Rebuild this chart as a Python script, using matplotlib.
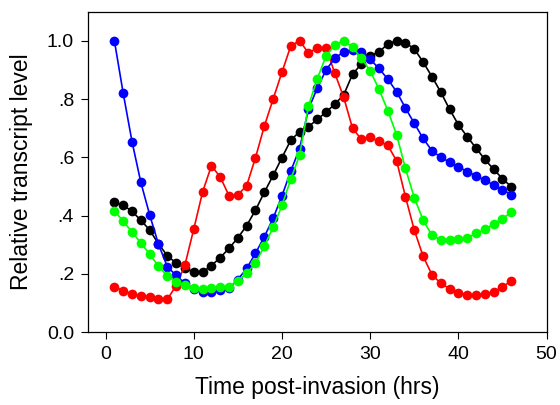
import matplotlib
matplotlib.use("Agg")
import matplotlib.pyplot as plt

plt.rcParams['font.family'] = ['Liberation Sans', 'DejaVu Sans']

hours = list(range(1, 47))

blue = [1.000, 0.820, 0.654, 0.514, 0.403, 0.302, 0.225, 0.195, 0.168, 0.150,
        0.139, 0.139, 0.145, 0.151, 0.181, 0.219, 0.271, 0.328, 0.391, 0.468,
        0.553, 0.630, 0.765, 0.837, 0.900, 0.940, 0.962, 0.968, 0.962, 0.936,
        0.905, 0.868, 0.825, 0.769, 0.717, 0.665, 0.623, 0.600, 0.584, 0.568,
        0.551, 0.537, 0.521, 0.506, 0.489, 0.472]

red = [0.156, 0.143, 0.131, 0.124, 0.122, 0.113, 0.113, 0.160, 0.231, 0.354,
       0.481, 0.571, 0.533, 0.468, 0.472, 0.503, 0.599, 0.707, 0.800, 0.892,
       0.982, 1.000, 0.958, 0.975, 0.975, 0.888, 0.806, 0.700, 0.662, 0.669,
       0.655, 0.641, 0.588, 0.465, 0.351, 0.261, 0.198, 0.168, 0.150, 0.136,
       0.129, 0.127, 0.131, 0.139, 0.156, 0.176]

black = [0.446, 0.436, 0.415, 0.384, 0.351, 0.303, 0.263, 0.237, 0.220, 0.206,
         0.206, 0.229, 0.256, 0.288, 0.324, 0.366, 0.419, 0.480, 0.538, 0.599,
         0.659, 0.688, 0.705, 0.730, 0.755, 0.783, 0.814, 0.885, 0.920, 0.949,
         0.961, 0.989, 1.000, 0.993, 0.972, 0.927, 0.877, 0.824, 0.765, 0.712,
         0.671, 0.632, 0.593, 0.559, 0.527, 0.499]

green = [0.417, 0.381, 0.344, 0.307, 0.268, 0.227, 0.193, 0.174, 0.161, 0.152,
         0.147, 0.153, 0.155, 0.157, 0.177, 0.202, 0.237, 0.296, 0.360, 0.435,
         0.525, 0.608, 0.776, 0.869, 0.948, 0.985, 1.000, 0.977, 0.940, 0.897,
         0.834, 0.760, 0.677, 0.562, 0.462, 0.385, 0.333, 0.317, 0.317, 0.319,
         0.324, 0.339, 0.353, 0.371, 0.389, 0.413]

y_ticks = [0.0, 0.2, 0.4, 0.6, 0.8, 1.0]
y_labels = ['0.0', '.2', '.4', '.6', '.8', '1.0']
x_ticks = [0, 10, 20, 30, 40, 50]

fig = plt.figure(figsize=(5.6, 4.05), dpi=100)
ax = fig.add_axes([0.157, 0.1795, 0.819, 0.792])

series = [(black, 'black'), (red, '#ff0000'), (blue, '#0000ff'), (green, '#00ff00')]
for z, (vals, col) in enumerate(series):
    ax.plot(hours, vals, color=col, marker='o', markersize=7, linewidth=1.2,
            markeredgewidth=0, zorder=3 + z)

ax.set_xlim(-2, 50)
ax.set_ylim(0, 1.1)
ax.set_xticks(x_ticks)
ax.set_yticks(y_ticks)
ax.set_yticklabels(y_labels)
ax.tick_params(direction='out', length=5, width=0.8, labelsize=14, pad=5)
for s in ax.spines.values():
    s.set_linewidth(0.9)

ax.set_xlabel('Time post-invasion (hrs)', fontsize=16.5, labelpad=9)
ax.set_ylabel('Relative transcript level', fontsize=16.5, labelpad=10)

fig.savefig('out.png', dpi=100)
